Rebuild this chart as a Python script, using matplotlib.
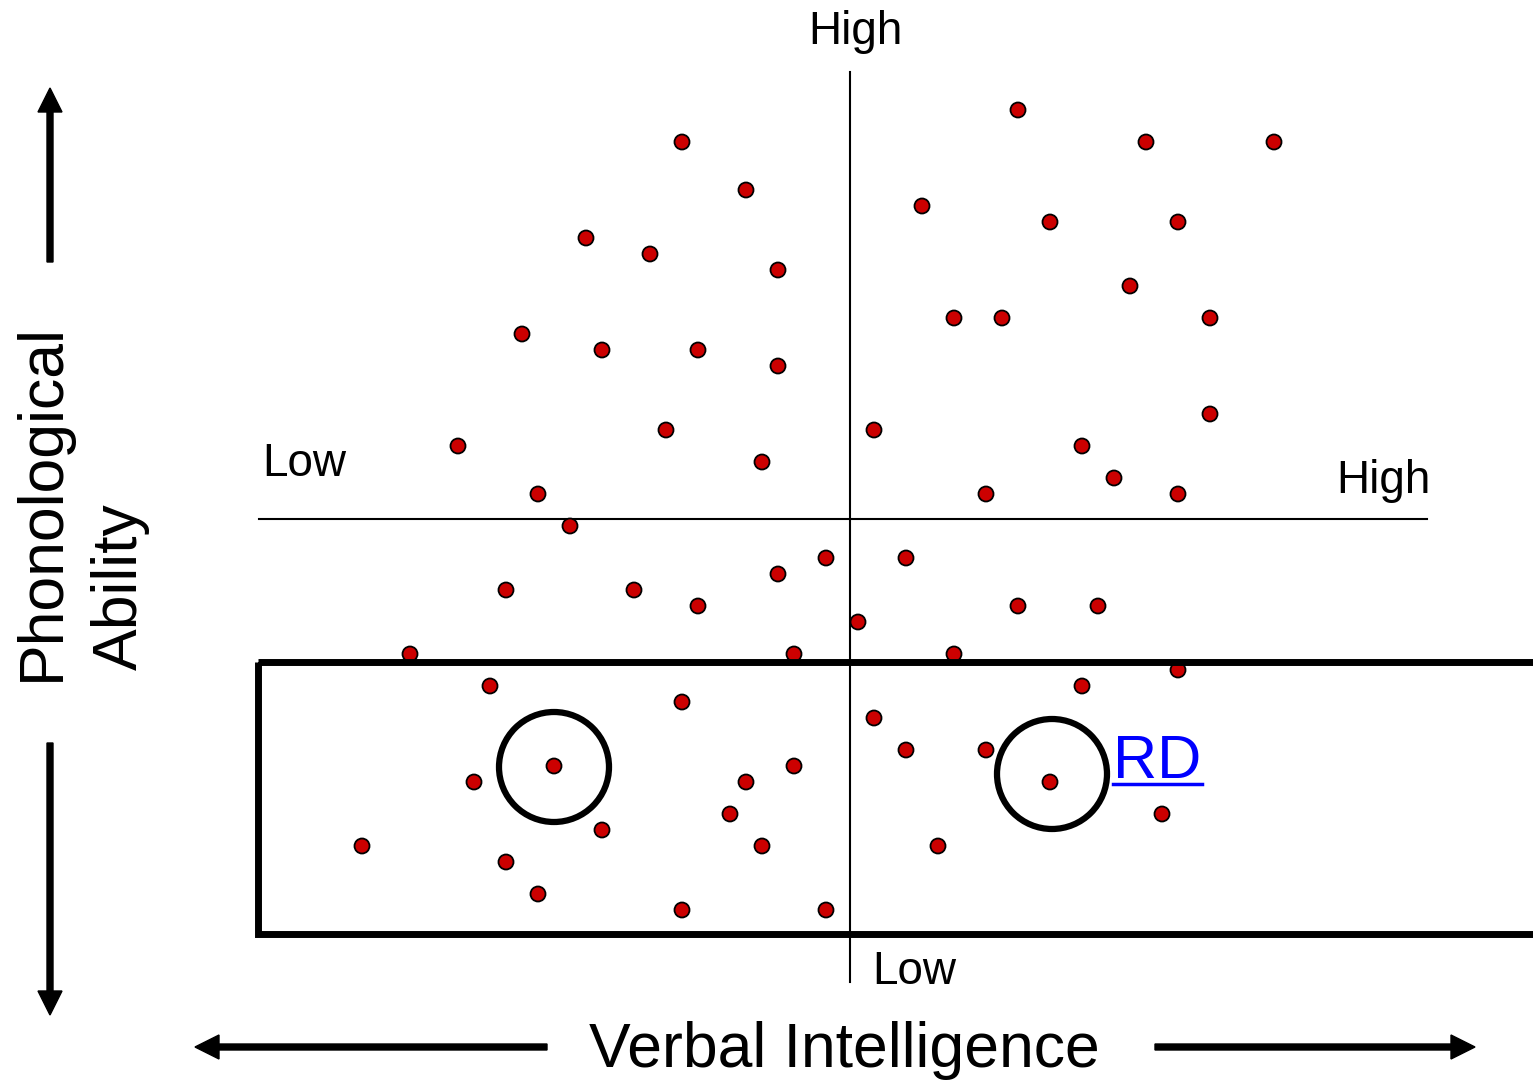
import matplotlib.pyplot as plt
from matplotlib.patches import Circle, Rectangle

plt.rcParams['font.family'] = ['Liberation Sans', 'DejaVu Sans']

# dot positions, in picture pixels (x right, y down)
dot_x = [682, 1018, 1146, 1274, 746, 922, 1050, 1178, 586, 650, 778, 1130,
         954, 1002, 1210, 522, 602, 698, 778, 1210, 666, 874, 458, 1082, 762,
         1114, 538, 986, 1178, 570, 826, 906, 778, 506, 634, 698, 1018, 1098,
         858, 410, 794, 954, 1178, 490, 1082, 682, 874, 906, 986, 554, 794,
         474, 746, 1050, 730, 1162, 602, 362, 762, 938, 506, 538, 682, 826]
dot_y = [142, 110, 142, 142, 190, 206, 222, 222, 238, 254, 270, 286,
         318, 318, 318, 334, 350, 350, 366, 414, 430, 430, 446, 446, 462,
         478, 494, 494, 494, 526, 558, 558, 574, 590, 590, 606, 606, 606,
         622, 654, 654, 654, 670, 686, 686, 702, 718, 750, 750, 766, 766,
         782, 782, 782, 814, 814, 830, 846, 846, 846, 862, 894, 910, 910]

# highlighted cases
ring_x = [554, 1052]
ring_y = [767, 774]

# quadrant lines and the RD band
center_x, center_y = 850, 519
band_left, band_top, band_bottom = 258, 662, 934

fig = plt.figure(figsize=(15.33, 10.83), dpi=100)
ax = fig.add_axes([0, 0, 1, 1])
ax.set_xlim(0, 1533)
ax.set_ylim(1083, 0)
ax.axis("off")

ax.plot([center_x, center_x], [72, 982], color="black", lw=1.5, zorder=1)
ax.plot([259, 1427], [center_y, center_y], color="black", lw=1.5, zorder=1)

for x, y in zip(dot_x, dot_y):
    ax.add_patch(Circle((x, y), 7.5, facecolor="#cc0000", edgecolor="black", lw=1.3, zorder=2))

ax.add_patch(Rectangle((band_left, band_top), 1600 - band_left, band_bottom - band_top,
                       fill=False, edgecolor="black", lw=5, zorder=3))

for x, y in zip(ring_x, ring_y):
    ax.add_patch(Circle((x, y), 55, fill=False, edgecolor="black", lw=4.5, zorder=3))

# axis arrows
arrow_kw = dict(width=6, head_width=24, head_length=24, length_includes_head=True,
                color="black", zorder=3)
ax.arrow(50, 262, 0, 88 - 262, **arrow_kw)
ax.arrow(50, 743, 0, 1015 - 743, **arrow_kw)
ax.arrow(547, 1047, 195 - 547, 0, **arrow_kw)
ax.arrow(1155, 1047, 1475 - 1155, 0, **arrow_kw)

# labels
ax.text(855, 32, "High", fontsize=33, ha="center", va="center")
ax.text(262, 464, "Low", fontsize=33, ha="left", va="center")
ax.text(1431, 481, "High", fontsize=33, ha="right", va="center")
ax.text(872, 972, "Low", fontsize=33, ha="left", va="center")
ax.text(844, 1050, "Verbal Intelligence", fontsize=45, ha="center", va="center")
ax.text(42, 502, "Phonological", fontsize=45, rotation=90, ha="center", va="center")
ax.text(120, 587, "Ability", fontsize=45, rotation=90, ha="center", va="center")

ax.text(1113, 778, "RD", fontsize=44, color="#0000ff", ha="left", va="baseline")
ax.plot([1113, 1202], [784, 784], color="#0000ff", lw=2.5)

fig.savefig("out.png", dpi=100)
